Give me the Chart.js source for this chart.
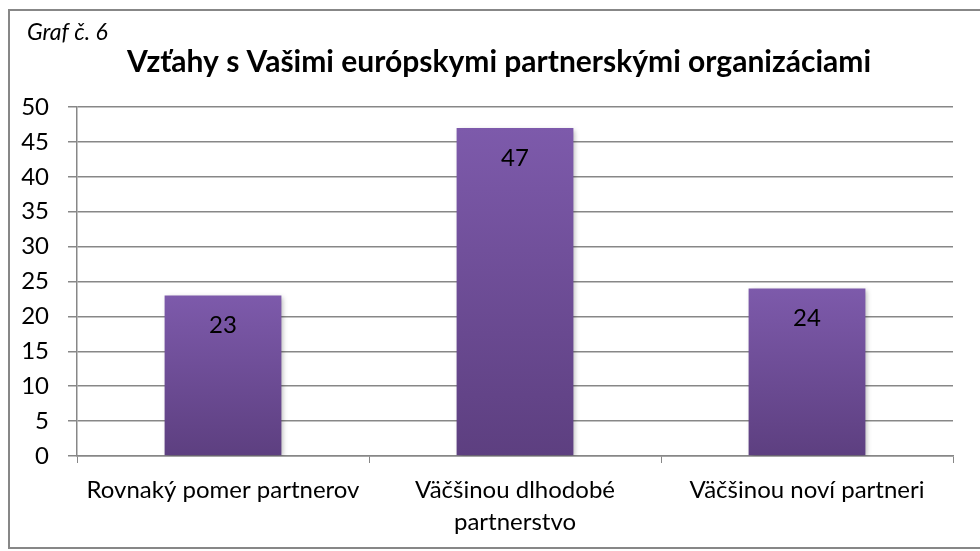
<!DOCTYPE html>
<html>
<head>
<meta charset="utf-8">
<script src="https://cdn.jsdelivr.net/npm/chart.js@4/dist/chart.umd.min.js"></script>
<style>
html,body{margin:0;padding:0;background:#fff;}
#wrap{position:relative;width:980px;height:551px;}
</style>
</head>
<body>
<div id="wrap"><canvas id="c" width="980" height="551"></canvas></div>
<script>
const categories = ["Rovnaký pomer partnerov", ["Väčšinou dlhodobé", "partnerstvo"], "Väčšinou noví partneri"];
const values = [23, 47, 24];
const yTicks = [0, 5, 10, 15, 20, 25, 30, 35, 40, 45, 50];
const chartTitle = "Vzťahy s Vašimi európskymi partnerskými organizáciami";
const chartNote = "Graf č. 6";

const FONT = "Lato, 'Open Sans', sans-serif";
const GRID = "#878787";

const decor = {
  id: 'decor',
  beforeDraw(chart) {
    const ctx = chart.ctx;
    ctx.save();
    ctx.strokeStyle = "#878787";
    ctx.lineWidth = 2;
    ctx.strokeRect(9, 10, 1000, 538);
    ctx.fillStyle = "#000";
    ctx.font = "italic 23px " + FONT;
    ctx.textBaseline = "middle";
    ctx.textAlign = "left";
    ctx.fillText(chartNote, 27, 33);
    ctx.font = "bold 30px " + FONT;
    ctx.textAlign = "center";
    ctx.fillText(chartTitle, 499, 62);
    ctx.restore();
  },
  beforeDatasetsDraw(chart) {
    const ctx = chart.ctx;
    ctx.save();
    ctx.shadowColor = "rgba(0,0,0,0.3)";
    ctx.shadowBlur = 5;
    ctx.shadowOffsetX = 2;
    ctx.shadowOffsetY = 2;
  },
  afterDatasetsDraw(chart) {
    const ctx = chart.ctx;
    ctx.restore();
    ctx.save();
    ctx.fillStyle = "#000";
    ctx.font = "24px " + FONT;
    ctx.textAlign = "center";
    ctx.textBaseline = "middle";
    const meta = chart.getDatasetMeta(0);
    meta.data.forEach((bar, i) => {
      ctx.fillText(String(values[i]), bar.x, bar.y + 30);
    });
    ctx.restore();
  }
};

new Chart(document.getElementById('c'), {
  type: 'bar',
  data: {
    labels: categories,
    datasets: [{
      data: values,
      barPercentage: 0.4,
      categoryPercentage: 1.0,
      backgroundColor(context) {
        const chart = context.chart;
        const area = chart.chartArea;
        if (!area) return "#6f4f98";
        const y0 = chart.scales.y.getPixelForValue(0);
        const y1 = chart.scales.y.getPixelForValue(context.raw || 0);
        const g = chart.ctx.createLinearGradient(0, y1, 0, y0);
        g.addColorStop(0, "#7d5aab");
        g.addColorStop(1, "#5d3f80");
        return g;
      },
      borderWidth: 0
    }]
  },
  options: {
    responsive: false,
    animation: false,
    layout: { padding: { left: 0, right: 27, top: 107, bottom: 0 } },
    plugins: {
      legend: { display: false },
      title: { display: false },
      tooltip: { enabled: false }
    },
    scales: {
      x: {
        grid: {
          display: true,
          drawOnChartArea: false,
          drawTicks: true,
          tickLength: 7,
          color: GRID,
          offset: true
        },
        border: { display: true, color: GRID, width: 1.5 },
        ticks: {
          color: "#000",
          font: { size: 24, family: FONT, lineHeight: 1.3 },
          padding: 12,
          maxRotation: 0,
          autoSkip: false
        },
        afterFit(scale) { scale.height = 95; }
      },
      y: {
        min: 0,
        max: 50,
        afterBuildTicks(scale) { scale.ticks = yTicks.map(v => ({ value: v })); },
        grid: {
          color: GRID,
          lineWidth: 1.5,
          drawTicks: true,
          tickLength: 9
        },
        border: { display: true, color: GRID, width: 1.5 },
        ticks: {
          color: "#000",
          font: { size: 24, family: FONT },
          padding: 19
        },
        afterFit(scale) { scale.width = 77; }
      }
    }
  },
  plugins: [decor]
});
</script>
</body>
</html>
